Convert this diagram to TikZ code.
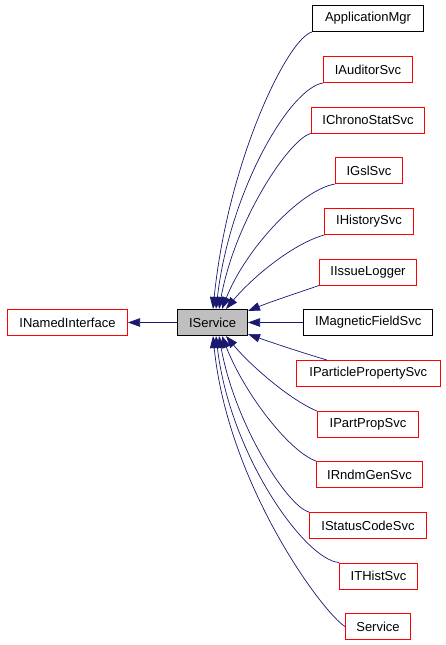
\documentclass[tikz,border=0pt]{standalone}
\usepackage{fontspec}
\setmainfont{Liberation Sans}
\usetikzlibrary{arrows.meta}
\definecolor{dgEdge}{RGB}{25,25,112}
\definecolor{dgRed}{RGB}{255,0,0}
\definecolor{dgFill}{RGB}{191,191,191}

\begin{document}
\begin{tikzpicture}[x=1pt,y=-1pt]
\tikzset{
cls/.style={draw=dgRed,fill=white,line width=1pt,font=\fontsize{13}{15}\selectfont,
minimum height=26pt,inner sep=0pt},
edge/.style={draw=dgEdge,line width=.7pt,-{Triangle[length=12pt,width=8.5pt]}}
}
\useasboundingbox (0,0) rectangle (445,645);
% base class in the middle
\node[cls,fill=dgFill,draw=black,minimum width=70pt] (isvc) at (212.5,322.5) {IService};
% derived classes
\foreach \nm/\lab/\cx/\cy/\w/\c in {
  appmgr/ApplicationMgr/368/18.5/111/black,
  iauditor/IAuditorSvc/368/69.5/89/dgRed,
  ichrono/IChronoStatSvc/368/120/113/dgRed,
  igsl/IGslSvc/369/170.5/67/dgRed,
  ihist/IHistorySvc/369/221.5/89/dgRed,
  iissue/IIssueLogger/368/272/97/dgRed,
  imagn/IMagneticFieldSvc/368.3/322.5/129/black,
  ipart/IParticlePropertySvc/368.3/373.5/144/dgRed,
  ippsvc/IPartPropSvc/368/424.5/101/dgRed,
  irndm/IRndmGenSvc/369.5/474.5/106/dgRed,
  istat/IStatusCodeSvc/368/525.5/117/dgRed,
  ithist/ITHistSvc/378.5/576/78/dgRed,
  service/Service/378/626.5/65/dgRed}
  \node[cls,draw=\c,minimum width=\w pt] (\nm) at (\cx,\cy) {\lab};
% base of IService
\node[cls,draw=red,minimum width=120pt] (inamed) at (67.5,322.5) {INamedInterface};
\draw[edge] (isvc.west) -- (inamed.east);
% curves into the top of IService
\foreach \src/\ax/\ay/\bx/\by/\dx in {
  appmgr/288/38/228/160/0.5,
  iauditor/290/88/230/190/3.5,
  ichrono/290/138/235/220/6.5,
  igsl/300/190/245/250/9.5,
  ihist/290/245/250/280/13.5}
  \draw[edge] (\src.south west) .. controls (\ax,\ay) and (\bx,\by) .. ([xshift=\dx pt]isvc.north);
% curves into the bottom of IService
\foreach \src/\anc/\ax/\ay/\bx/\by/\dx in {
  ippsvc/north west/290/400/250/365/13.5,
  irndm/north west/290/452/245/395/9.5,
  istat/north west/288/507/235/425/6.5,
  ithist/north west/305/560/230/455/3.5,
  service/west/323/613/228/485/0.5}
  \draw[edge] (\src.\anc) .. controls (\ax,\ay) and (\bx,\by) .. ([xshift=\dx pt]isvc.south);
% into the right side
\draw[edge] (iissue.south west) .. controls (300,292) and (270,302) .. ([yshift=-2pt]isvc.north east);
\draw[edge] (imagn.west) -- (isvc.east);
\draw[edge] ([xshift=31pt]ipart.north west) .. controls (300,352) and (270,342) .. ([yshift=2pt]isvc.south east);
\end{tikzpicture}
\end{document}
